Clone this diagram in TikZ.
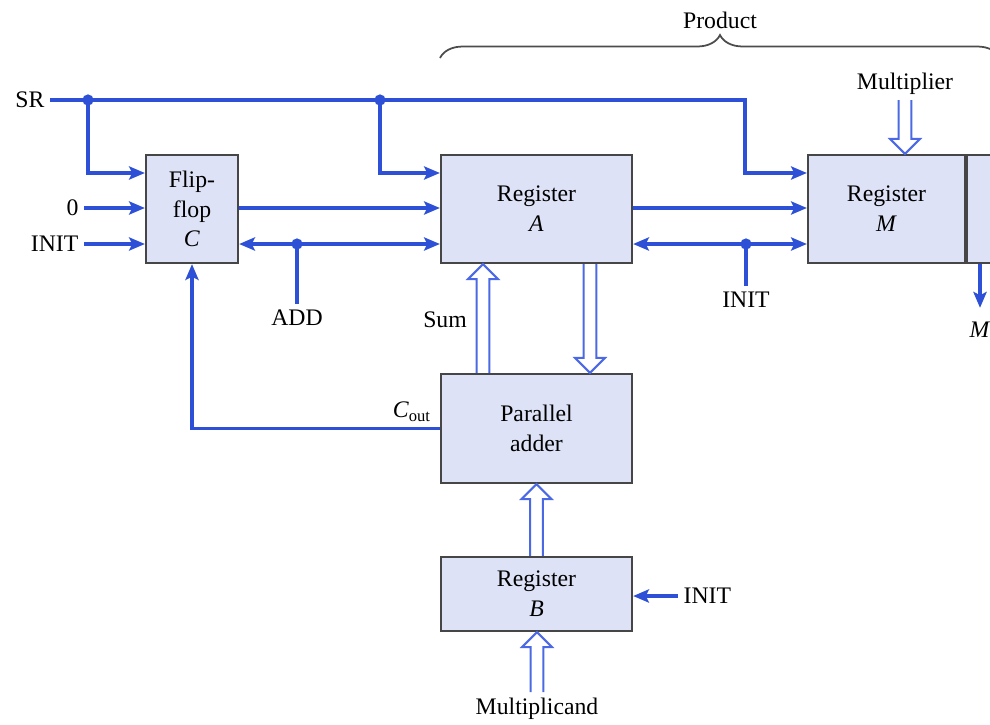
\documentclass[tikz,border=0pt]{standalone}
\usepackage{fontspec}
\setmainfont{Liberation Serif}
\usetikzlibrary{arrows.meta,calc,decorations.pathreplacing}
\definecolor{sigblue}{RGB}{45,80,215}
\definecolor{busblue}{RGB}{75,105,228}
\definecolor{boxfill}{RGB}{221,226,246}
\definecolor{boxline}{RGB}{70,70,70}
\tikzset{>={Stealth[length=9pt,width=7.5pt,inset=1.8pt]},
  every node/.style={font=\fontsize{13.5}{17}\selectfont},
  sig/.style={sigblue,line width=2pt},
  box/.style={draw=boxline,line width=1.3pt,fill=boxfill,align=center,inner sep=0pt,minimum height=2.16cm},
  lbl/.style={inner sep=3pt},
  bus/.style={draw=busblue,line width=1.2pt,fill=white,line join=miter},
  brace/.style={decorate,decoration={brace,amplitude=0.46cm},draw=black!70,line width=1pt}}
\newcommand{\busarrow}[2]{\draw[bus] let \p1=(#1),\p2=(#2),\n1={sign(\y1-\y2)} in
  (\x1-3.6pt,\y1) -- (\x1-3.6pt,\y2+\n1*8.5pt) -- (\x1-8.5pt,\y2+\n1*8.5pt) -- (\x1,\y2)
  -- (\x1+8.5pt,\y2+\n1*8.5pt) -- (\x1+3.6pt,\y2+\n1*8.5pt) -- (\x1+3.6pt,\y1);}

\begin{document}
\begin{tikzpicture}[x=0.02cm,y=-0.02cm]
\clip (0,0) rectangle (990,724);
% boxes
\node[box,minimum width=1.84cm] (ff) at (192,209) {Flip-\\flop\\\textit{C}};
\node[box,minimum width=3.82cm] (regA) at (536.5,209) {Register\\\textit{A}};
\node[box,minimum width=3.14cm] (regM) at (886.5,209) {Register\\\textit{M}};
\node[box,minimum width=3.14cm,anchor=west] (regQ) at (regM.east) {};
\node[box,minimum width=3.82cm,minimum height=2.18cm] (adder) at (536.5,428.5) {Parallel\\adder};
\node[box,minimum width=3.82cm,minimum height=1.48cm] (regB) at (536.5,594) {Register\\\textit{B}};

% labels
\node[lbl,anchor=east] (sr) at (50,100) {SR};
\node[lbl,anchor=east] (zero) at (84,208) {0};
\node[lbl,anchor=east] (init1) at (84,244) {INIT};
\node[lbl,anchor=north] (add) at (297,304) {ADD};
\node[lbl,anchor=north] (init2) at (746,286) {INIT};
\node[lbl] (sum) at (445,320) {Sum};
\node[lbl,anchor=south east,inner sep=1pt] (cout) at (433,424) {\textit{C}\textsubscript{out}};
\node[lbl,anchor=west] (init3) at (678,596) {INIT};
\node[lbl,anchor=north] (mcand) at (537,692) {Multiplicand};
\node[lbl,anchor=south] (mplier) at (905,100) {Multiplier};
\node[lbl] (prod) at (720,20) {Product};
\node[lbl] (mout) at (980,330) {\textit{M}};
\draw[brace] (440,58) -- (1000,58);

\coordinate (r1) at (0,173);\coordinate (r2) at (0,208);
\coordinate (srT) at (745,100);
\coordinate (j1) at (88,100);\coordinate (j2) at (380,100);
\coordinate (j3) at (297,244);\coordinate (j4) at (746,244);

% control lines
\draw[sig,->] (sr.east) -- (srT) |- (regM.west |- r1);
\draw[sig,->] (j1) |- (ff.west |- r1);
\draw[sig,->] (j2) |- (regA.west |- r1);
\draw[sig,->] (zero.east) -- (ff.west |- zero.east);
\draw[sig,->] (init1.east) -- (ff.west |- init1.east);
\draw[sig,->] (ff.east |- r2) -- (regA.west |- r2);
\draw[sig,->] (regA.east |- r2) -- (regM.west |- r2);
\draw[sig,->] (j3) -- (ff.east |- j3);
\draw[sig,->] (j3) -- (regA.west |- j3);
\draw[sig] (j3) -- (add.north);
\draw[sig,->] (j4) -- (regA.east |- j4);
\draw[sig,->] (j4) -- (regM.west |- j4);
\draw[sig] (j4) -- (init2.north);
\draw[sig,->] (adder.west) -| (ff.south);
\draw[sig,->] (init3.west) -- (regB.east |- init3.west);
\draw[sig,->,shorten >=5pt] (mout.north |- regQ.south) -- (mout.north);
\foreach \j in {j1,j2,j3,j4} \fill[sigblue] (\j) circle (3.2pt);

% buses
\busarrow{mplier.south}{regM.north -| mplier.south}
\busarrow{[xshift=-1.07cm]adder.north}{[xshift=-1.07cm]regA.south}
\busarrow{[xshift=1.07cm]regA.south}{[xshift=1.07cm]adder.north}
\busarrow{regB.north}{adder.south}
\busarrow{mcand.north}{regB.south}
\end{tikzpicture}
\end{document}
